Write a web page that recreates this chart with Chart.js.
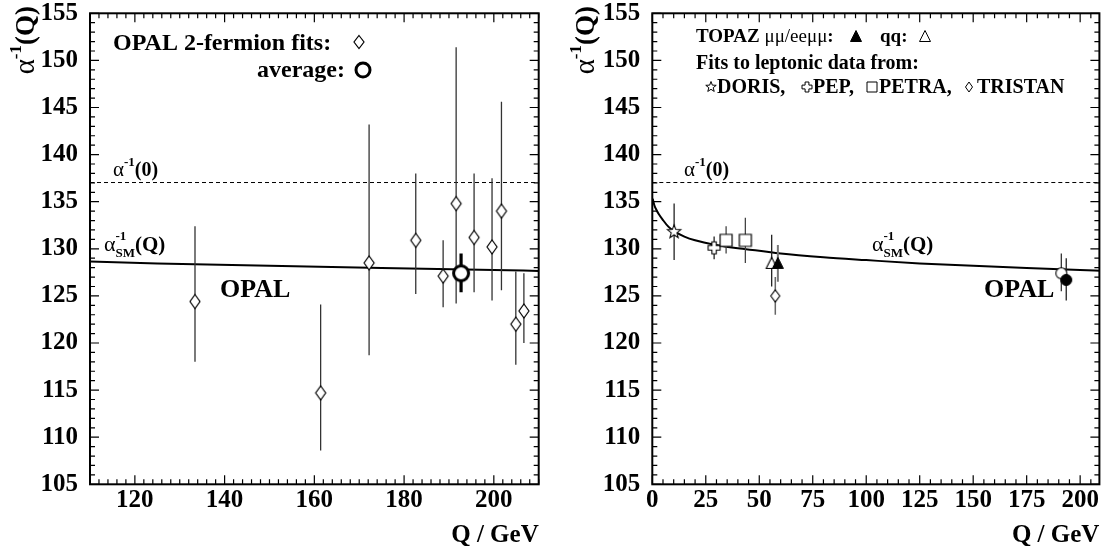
<!DOCTYPE html>
<html><head><meta charset="utf-8">
<script src="https://cdn.jsdelivr.net/npm/chart.js@4.4.1/dist/chart.umd.min.js"></script>
<style>
html,body{margin:0;padding:0;background:#fff;}
#wrap{position:relative;width:1106px;height:546px;overflow:hidden;background:#fff}
.c{position:absolute;top:0;width:553px;height:546px}
</style></head><body>
<div id="wrap">
<div class="c" style="left:0"><canvas id="cl" width="553" height="546"></canvas></div>
<div class="c" style="left:553px"><canvas id="cr" width="553" height="546"></canvas></div>
</div>
<script>
// ---------------- data ----------------
const Y_TICKS = [105,110,115,120,125,130,135,140,145,150,155];
const LEFT_X_TICKS = [120,140,160,180,200];
const RIGHT_X_TICKS = [0,25,50,75,100,125,150,175,200];
const ALPHA_0 = 137.036;
// Standard-model running alpha^-1(Q)
const SM_Q     = [0.2,1,2,3,5,7.5,10,15,20,30,40,50,60,80,100,125,150,175,200,210];
const SM_ALPHA = [135.3,134.6,134.1,133.7,133.05,132.35,131.9,131.3,130.9,130.4,130.05,129.8,129.5,129.1,128.8,128.45,128.2,127.95,127.75,127.65];
// left panel: OPAL 2-fermion fits
const OPAL_Q   = [133.4,161.4,172.2,182.6,188.7,191.6,195.6,199.6,201.7,204.9,206.7];
const OPAL_VAL = [124.4,114.7,128.5,130.9,127.1,134.8,131.2,130.2,134.0,122.0,123.4];
const OPAL_HI  = [132.4,124.1,143.2,138.0,130.9,151.4,138.0,137.5,145.6,127.6,127.4];
const OPAL_LO  = [118.0,108.6,118.7,125.2,123.8,124.2,125.4,124.5,125.6,117.7,120.0];
const AVG_Q = [192.7], AVG_VAL = [127.4], AVG_HI = [129.5], AVG_LO = [125.4];
// right panel
const DORIS_Q=[10.2], DORIS_VAL=[131.8], DORIS_HI=[134.8], DORIS_LO=[128.8];
const PEP_Q=[28.9], PEP_VAL=[130.1], PEP_HI=[131.3], PEP_LO=[128.9];
const PETRA_Q=[34.5,43.5], PETRA_VAL=[130.9,130.9], PETRA_HI=[132.4,133.3], PETRA_LO=[129.5,128.5];
const TRISTAN_Q=[57.5], TRISTAN_VAL=[125.0], TRISTAN_HI=[127.0], TRISTAN_LO=[123.0];
const TOPAZ_LL_Q=[58.7], TOPAZ_LL_VAL=[128.5], TOPAZ_LL_HI=[130.4], TOPAZ_LL_LO=[126.5];
const TOPAZ_QQ_Q=[55.8], TOPAZ_QQ_VAL=[128.5], TOPAZ_QQ_HI=[131.5], TOPAZ_QQ_LO=[126.0];
const OPAL_AVG_Q=[191.2], OPAL_AVG_VAL=[127.4], OPAL_AVG_HI=[129.5], OPAL_AVG_LO=[125.5];
const OPAL_FIT_Q=[193.5], OPAL_FIT_VAL=[126.7], OPAL_FIT_HI=[129.0], OPAL_FIT_LO=[124.5];

// ---------------- markers ----------------
function fs(g,fill,lw){g.save();g.fillStyle=fill;g.fill();g.lineWidth=lw;g.strokeStyle='#000';g.setLineDash([]);g.stroke();g.restore();}
const MK = {
  diamond(g,x,y,w,h,lw){g.beginPath();g.moveTo(x,y-h/2);g.lineTo(x+w/2,y);g.lineTo(x,y+h/2);g.lineTo(x-w/2,y);g.closePath();fs(g,'#fff',lw);},
  circle(g,x,y,r,lw,fill){g.beginPath();g.arc(x,y,r,0,2*Math.PI);fs(g,fill,lw);},
  star(g,x,y,R,r,lw){g.beginPath();for(let i=0;i<10;i++){const rr=i%2?r:R;const a=-Math.PI/2+i*Math.PI/5;const px=x+rr*Math.cos(a),py=y+rr*Math.sin(a);i?g.lineTo(px,py):g.moveTo(px,py);}g.closePath();fs(g,'#fff',lw);},
  cross(g,x,y,s,a,lw){const p=[[-a,-s],[a,-s],[a,-a],[s,-a],[s,a],[a,a],[a,s],[-a,s],[-a,a],[-s,a],[-s,-a],[-a,-a]];g.beginPath();p.forEach((q,i)=>i?g.lineTo(x+q[0],y+q[1]):g.moveTo(x+q[0],y+q[1]));g.closePath();fs(g,'#fff',lw);},
  square(g,x,y,s,lw){g.beginPath();g.rect(x-s/2,y-s/2,s,s);fs(g,'#fff',lw);},
  tri(g,x,y,w,h,fill,lw){g.beginPath();g.moveTo(x,y-h/2);g.lineTo(x+w/2,y+h/2);g.lineTo(x-w/2,y+h/2);g.closePath();fs(g,fill,lw);}
};
function mk(size,fn){const c=document.createElement('canvas');c.width=size;c.height=size;const g=c.getContext('2d');fn(g,size/2,size/2);return c;}
const IMG = {
  diamondL: mk(20,(g,x,y)=>MK.diamond(g,x,y,10,14,1.2)),
  avgL: mk(24,(g,x,y)=>MK.circle(g,x,y,7.5,3,'#fff')),
  star: mk(20,(g,x,y)=>MK.star(g,x,y,7,3,1.1)),
  cross: mk(20,(g,x,y)=>MK.cross(g,x,y,6,2.2,1.1)),
  square: mk(20,(g,x,y)=>MK.square(g,x,y,12,1.2)),
  diamondS: mk(20,(g,x,y)=>MK.diamond(g,x,y,9,12,1.1)),
  triFill: mk(20,(g,x,y)=>MK.tri(g,x,y,11,11,'#000',1)),
  triOpen: mk(20,(g,x,y)=>MK.tri(g,x,y,11,11,'#fff',1.1)),
  circOpen: mk(20,(g,x,y)=>MK.circle(g,x,y,5.5,1.1,'#fff')),
  circFill: mk(20,(g,x,y)=>MK.circle(g,x,y,5.5,1,'#000'))
};

// ---------------- helpers ----------------
const SERIF='"Liberation Serif","Times New Roman",serif';
const B = s=>`bold ${s}px ${SERIF}`;
const R = s=>`${s}px ${SERIF}`;
const pts = (q,v)=>q.map((x,i)=>({x,y:v[i]}));
function errSegs(q,lo,hi){const d=[];q.forEach((x,i)=>{d.push({x,y:lo[i]},{x,y:hi[i]},{x,y:null});});return d;}
function errDs(q,lo,hi,color,w){return {data:errSegs(q,lo,hi),borderColor:color,borderWidth:w,pointRadius:0,spanGaps:false,order:2};}
function markDs(q,v,img){return {data:pts(q,v),showLine:false,pointStyle:img,pointRadius:5,pointHoverRadius:5,order:0};}
function curveDs(xmin,xmax){return [
  {data:pts(SM_Q,SM_ALPHA),borderColor:'#000',borderWidth:2,pointRadius:0,cubicInterpolationMode:'monotone',order:3},
  {data:[{x:xmin,y:ALPHA_0},{x:xmax,y:ALPHA_0}],borderColor:'#000',borderWidth:1,borderDash:[4,3],pointRadius:0,order:3}
];}

function runs(ctx,x,y,list){let cx=x;for(const r of list){ctx.font=r.f;if(r.stack){let w=0;for(const s of r.stack){ctx.font=s.f;ctx.fillText(s.t,cx,y+s.dy);w=Math.max(w,ctx.measureText(s.t).width);}cx+=w+(r.gap||0);}else{ctx.fillText(r.t,cx,y+(r.dy||0));cx+=ctx.measureText(r.t).width+(r.gap||0);}}return cx-x;}
function runsWidth(ctx,list){let w=0;for(const r of list){if(r.stack){let m=0;for(const s of r.stack){ctx.font=s.f;m=Math.max(m,ctx.measureText(s.t).width);}w+=m+(r.gap||0);}else{ctx.font=r.f;w+=ctx.measureText(r.t).width+(r.gap||0);}}return w;}

function drawFrame(chart,xMajors,xMinor){
  const {ctx,chartArea:a,scales:{x,y}}=chart;
  ctx.save();ctx.strokeStyle='#000';ctx.lineWidth=1.2;ctx.beginPath();
  const L=9,S=5;
  for(let v=Math.ceil(x.min/xMinor)*xMinor;v<=x.max+1e-9;v+=xMinor){
    const len=xMajors.some(m=>Math.abs(m-v)<1e-6)?L:S;const p=x.getPixelForValue(v);
    ctx.moveTo(p,a.bottom);ctx.lineTo(p,a.bottom-len);ctx.moveTo(p,a.top);ctx.lineTo(p,a.top+len);
  }
  for(let v=Math.ceil(y.min);v<=y.max+1e-9;v+=1){
    const len=Y_TICKS.some(m=>Math.abs(m-v)<1e-6)?L:S;const p=y.getPixelForValue(v);
    ctx.moveTo(a.left,p);ctx.lineTo(a.left+len,p);ctx.moveTo(a.right,p);ctx.lineTo(a.right-len,p);
  }
  ctx.stroke();
  ctx.lineWidth=2;ctx.strokeRect(a.left,a.top,a.right-a.left,a.bottom-a.top);
  ctx.restore();
}
function axisTitles(chart,ytX){
  const {ctx,chartArea:a}=chart;
  ctx.save();ctx.fillStyle='#000';ctx.textBaseline='alphabetic';
  ctx.font=B(25);ctx.textAlign='right';ctx.fillText('Q / GeV',a.right,542);
  ctx.textAlign='left';
  const t=[{t:'α',f:R(29)},{t:'-1',f:B(17),dy:-13},{t:'(Q)',f:B(27)}];
  const w=runsWidth(ctx,t);
  ctx.translate(ytX,6);ctx.rotate(-Math.PI/2);
  runs(ctx,-w,0,t);
  ctx.restore();
}
function alphaLabels(ctx,x0,y0,x1,y1){
  runs(ctx,x0,y0,[{t:'α',f:R(21)},{t:'-1',f:B(13),dy:-10},{t:'(0)',f:B(20)}]);
  runs(ctx,x1,y1,[{t:'α',f:R(22)},{stack:[{t:'-1',f:B(13),dy:-11},{t:'SM',f:B(13),dy:6}]},{t:'(Q)',f:B(21)}]);
}

function scaleOpts(min,max,ticks,isX,fitSize){
  return {type:'linear',min,max,
    afterBuildTicks:s=>{s.ticks=ticks.map(v=>({value:v}));},
    afterFit:s=>{if(isX)s.height=fitSize;else s.width=fitSize;s.paddingTop=0;s.paddingBottom=0;s.paddingLeft=0;s.paddingRight=0;},
    grid:{display:false,drawTicks:false},border:{display:false},
    ticks:{color:'#000',font:{family:SERIF,weight:'bold',size:25,lineHeight:1},padding:isX?4:12,autoSkip:false,maxRotation:0,minRotation:0}
  };
}
const baseOpts={responsive:false,animation:false,events:[],
  plugins:{legend:{display:false},tooltip:{enabled:false}}};

// ---------------- left chart ----------------
new Chart(document.getElementById('cl'),{
  type:'line',
  data:{datasets:[
    markDs(AVG_Q,AVG_VAL,IMG.avgL),
    markDs(OPAL_Q,OPAL_VAL,IMG.diamondL),
    errDs(OPAL_Q,OPAL_LO,OPAL_HI,'#333',1.3),
    errDs(AVG_Q,AVG_LO,AVG_HI,'#000',3.2),
    ...curveDs(110,210)
  ]},
  options:{...baseOpts,
    layout:{padding:{left:0,right:14.3,top:13.3,bottom:0}},
    scales:{x:scaleOpts(110,210,LEFT_X_TICKS,true,61.7),y:scaleOpts(105,155,Y_TICKS,false,90)}
  },
  plugins:[{id:'decoL',
    afterDatasetsDraw(chart){drawFrame(chart,LEFT_X_TICKS,2);},
    afterDraw(chart){
      const ctx=chart.ctx;ctx.save();ctx.fillStyle='#000';ctx.textBaseline='alphabetic';ctx.textAlign='left';
      ctx.font=B(24);ctx.fillText('OPAL 2-fermion fits:',113,50);
      ctx.textAlign='right';ctx.fillText('average:',345,77);ctx.textAlign='left';
      MK.diamond(ctx,359,42,10,13,1.2);
      MK.circle(ctx,363,70,7,3,'#fff');
      alphaLabels(ctx,113,176,104,251);
      ctx.font=B(26);ctx.fillText('OPAL',220,297);
      ctx.restore();
      axisTitles(chart,34);
    }}]
});

// ---------------- right chart ----------------
new Chart(document.getElementById('cr'),{
  type:'line',
  data:{datasets:[
    markDs(OPAL_FIT_Q,OPAL_FIT_VAL,IMG.circFill),
    markDs(OPAL_AVG_Q,OPAL_AVG_VAL,IMG.circOpen),
    markDs(TOPAZ_LL_Q,TOPAZ_LL_VAL,IMG.triFill),
    markDs(TOPAZ_QQ_Q,TOPAZ_QQ_VAL,IMG.triOpen),
    markDs(TRISTAN_Q,TRISTAN_VAL,IMG.diamondS),
    markDs(PETRA_Q,PETRA_VAL,IMG.square),
    markDs(PEP_Q,PEP_VAL,IMG.cross),
    markDs(DORIS_Q,DORIS_VAL,IMG.star),
    errDs(DORIS_Q,DORIS_LO,DORIS_HI,'#222',1.3),
    errDs(PEP_Q,PEP_LO,PEP_HI,'#222',1.3),
    errDs(PETRA_Q,PETRA_LO,PETRA_HI,'#444',1.3),
    errDs(TRISTAN_Q,TRISTAN_LO,TRISTAN_HI,'#666',1.5),
    errDs(TOPAZ_LL_Q,TOPAZ_LL_LO,TOPAZ_LL_HI,'#777',2),
    errDs(TOPAZ_QQ_Q,TOPAZ_QQ_LO,TOPAZ_QQ_HI,'#222',1.3),
    errDs(OPAL_AVG_Q,OPAL_AVG_LO,OPAL_AVG_HI,'#333',1.3),
    errDs(OPAL_FIT_Q,OPAL_FIT_LO,OPAL_FIT_HI,'#222',1.3),
    ...curveDs(0,209)
  ]},
  options:{...baseOpts,
    layout:{padding:{left:0,right:6.6,top:13.3,bottom:0}},
    scales:{x:scaleOpts(0,209,RIGHT_X_TICKS,true,61.7),y:scaleOpts(105,155,Y_TICKS,false,99.3)}
  },
  plugins:[{id:'decoR',
    afterDatasetsDraw(chart){drawFrame(chart,RIGHT_X_TICKS,5);},
    afterDraw(chart){
      const ctx=chart.ctx;const o=-553;ctx.save();ctx.fillStyle='#000';ctx.textBaseline='alphabetic';ctx.textAlign='left';
      // line 1
      runs(ctx,696+o,42,[{t:'TOPAZ ',f:B(19)},{t:'μμ/eeμμ',f:R(19)},{t:':',f:B(19)}]);
      MK.tri(ctx,856+o,36,11,11,'#000',1);
      ctx.font=B(19);ctx.fillText('qq:',880+o,42);
      MK.tri(ctx,925+o,36,11,11,'#fff',1);
      // line 2
      ctx.font=B(20);ctx.fillText('Fits to leptonic data from:',696+o,69);
      // line 3
      MK.star(ctx,711+o,87,5.5,2.3,1);
      ctx.font=B(20);ctx.fillText('DORIS,',717+o,93);
      MK.cross(ctx,807+o,87,5,1.9,1);
      ctx.fillText('PEP,',813+o,93);
      MK.square(ctx,872+o,87,10,1);
      ctx.fillText('PETRA,',879+o,93);
      MK.diamond(ctx,969+o,87,7,10,1);
      ctx.fillText('TRISTAN',977+o,93);
      alphaLabels(ctx,684+o,176,872+o,251);
      ctx.font=B(26);ctx.fillText('OPAL',984+o,297);
      ctx.restore();
      axisTitles(chart,594+o);
    }}]
});
</script>
</body></html>
